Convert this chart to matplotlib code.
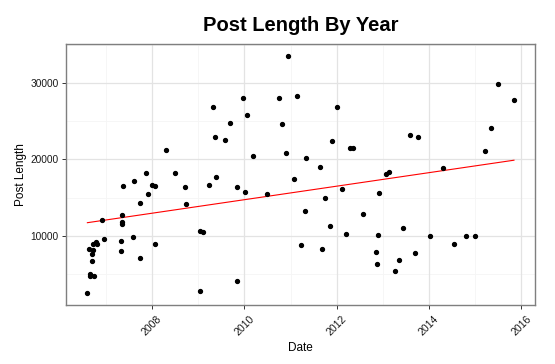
import numpy as np
import matplotlib
matplotlib.use("Agg")
import matplotlib.pyplot as plt

# post date (fractional year) and post length
years = [
    2006.60, 2006.63, 2006.65, 2006.66, 2006.69, 2006.69, 2006.73, 2006.73, 2006.75, 2006.78,
    2006.80, 2006.91, 2006.95, 2007.32, 2007.32, 2007.34, 2007.34, 2007.36, 2007.38, 2007.58,
    2007.60, 2007.73, 2007.75, 2007.86, 2007.92, 2007.99, 2008.06, 2008.06, 2008.31, 2008.49,
    2008.72, 2008.74, 2009.05, 2009.05, 2009.11, 2009.24, 2009.33, 2009.37, 2009.39, 2009.59,
    2009.69, 2009.85, 2009.85, 2009.98, 2010.02, 2010.06, 2010.19, 2010.50, 2010.74, 2010.82,
    2010.91, 2010.95, 2011.08, 2011.14, 2011.23, 2011.32, 2011.34, 2011.64, 2011.68, 2011.75,
    2011.86, 2011.90, 2012.01, 2012.12, 2012.20, 2012.29, 2012.35, 2012.57, 2012.85, 2012.87,
    2012.90, 2012.92, 2013.07, 2013.14, 2013.26, 2013.35, 2013.44, 2013.59, 2013.70, 2013.76,
    2014.02, 2014.30, 2014.54, 2014.80, 2014.99, 2015.21, 2015.34, 2015.49, 2015.84,
]
lengths = [
    2500, 8250, 4980, 4810, 7590, 6680, 8900, 8120, 4720, 9160,
    8900, 12040, 9550, 9290, 7990, 12690, 11870, 11520, 16480, 9820,
    17140, 7070, 14260, 18180, 15440, 16610, 16480, 8900, 21190, 18180,
    16350, 14130, 10600, 2760, 10470, 16610, 26810, 22890, 17660, 22490,
    24720, 16350, 4070, 27980, 15700, 25760, 20400, 15440, 27980, 24590,
    20800, 33470, 17400, 28240, 8770, 13210, 20140, 18970, 8250, 14910,
    11250, 22360, 26810, 16090, 10210, 21450, 21450, 12820, 7860, 6290,
    10080, 15570, 18050, 18310, 5370, 6810, 10990, 23150, 7730, 22890,
    9950, 18830, 8900, 9950, 9950, 21060, 24060, 29820, 27720,
]
xTicks = [2008, 2010, 2012, 2014, 2016]
xMinor = [2007, 2009, 2011, 2013, 2015]
yTicks = [10000, 20000, 30000]
yMinor = [5000, 15000, 25000, 35000]


def main():
    plt.rcParams["font.family"] = ["Liberation Sans", "DejaVu Sans"]
    fig = plt.figure(figsize=(5.55, 3.64), dpi=100)
    ax = fig.add_axes([0.119, 0.162, 0.8455, 0.716])

    x = np.array(years)
    y = np.array(lengths)

    # ggplot style 5% expansion
    xr = x.max() - x.min()
    yr = y.max() - y.min()
    ax.set_xlim(x.min() - 0.05 * xr, x.max() + 0.05 * xr)
    ax.set_ylim(y.min() - 0.05 * yr, y.max() + 0.05 * yr)

    for v in xMinor:
        ax.axvline(v, color="#f5f5f5", lw=0.6, zorder=0)
    for v in yMinor:
        ax.axhline(v, color="#f5f5f5", lw=0.6, zorder=0)
    for v in xTicks:
        ax.axvline(v, color="#e3e3e3", lw=0.9, zorder=0)
    for v in yTicks:
        ax.axhline(v, color="#e3e3e3", lw=0.9, zorder=0)

    ax.plot(x, y, "o", color="black", markersize=2.8, zorder=3)

    # linear fit like geom_smooth(method="lm")
    slope, intercept = np.polyfit(x, y, 1)
    fx = np.array([x.min(), x.max()])
    ax.plot(fx, slope * fx + intercept, color="red", lw=0.8, zorder=2)

    ax.set_xticks(xTicks)
    ax.set_xticklabels([str(t) for t in xTicks], rotation=45, ha="center", va="top")
    ax.set_yticks(yTicks)
    ax.set_yticklabels([str(t) for t in yTicks])
    ax.tick_params(axis="both", length=3, width=0.7, color="#333333",
                   labelsize=7.3, labelcolor="#1a1a1a", pad=2.5)
    ax.tick_params(axis="x", labelsize=7.6, pad=3.5)

    for side in ax.spines.values():
        side.set_color("#7f7f7f")
        side.set_linewidth(1.0)

    ax.set_title("Post Length By Year", fontsize=14.5, fontweight="bold", pad=10)
    ax.set_xlabel("Date", fontsize=8.5, labelpad=3)
    ax.set_ylabel("Post Length", fontsize=8.5, labelpad=2)

    plt.savefig("out.png", dpi=100)


if __name__ == "__main__":
    main()
